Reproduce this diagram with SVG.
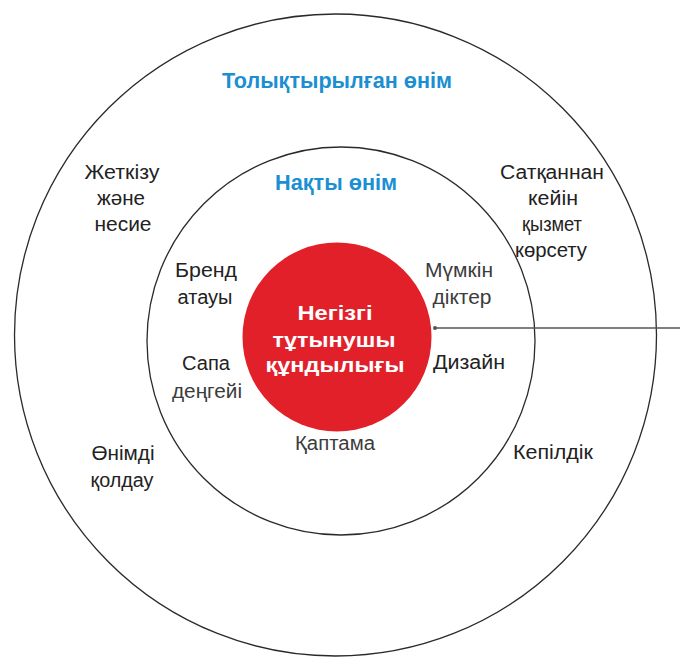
<svg xmlns="http://www.w3.org/2000/svg" width="680" height="659" viewBox="0 0 680 659">
<style>
.ring{fill:none;stroke:#2a2a2a;stroke-width:1.3}
.title{font-family:"Liberation Sans",Arial,sans-serif;font-weight:bold;font-size:21.5px;fill:#1b8fd2;text-anchor:middle}
.lbl{font-family:"Liberation Sans",Arial,sans-serif;font-size:20px;fill:#222;text-anchor:middle}
.lbl2{font-family:"Liberation Sans",Arial,sans-serif;font-size:20px;fill:#3c3c3c;text-anchor:middle}
.core{font-family:"Liberation Sans",Arial,sans-serif;font-weight:bold;font-size:21px;fill:#fff;text-anchor:middle}
.conn{stroke:#555;stroke-width:1.5;fill:none}
</style>
<rect width="680" height="659" fill="#fff"/>
<g id="augmented-product">
<circle class="ring" cx="335.5" cy="335" r="321"/>
<text class="title" x="337" y="88" textLength="230" lengthAdjust="spacingAndGlyphs">Толықтырылған өнім</text>
</g>
<g id="actual-product">
<circle class="ring" cx="341" cy="341" r="194"/>
<text class="title" x="336" y="190" textLength="122" lengthAdjust="spacingAndGlyphs">Нақты өнім</text>
</g>
<g id="core-value">
<circle cx="337" cy="337" r="94.5" fill="#e2202a"/>
<text class="core" x="335" y="320" textLength="75" lengthAdjust="spacingAndGlyphs">Негізгі</text>
<text class="core" x="334" y="347" textLength="123" lengthAdjust="spacingAndGlyphs">тұтынушы</text>
<text class="core" x="335" y="372" textLength="139" lengthAdjust="spacingAndGlyphs">құндылығы</text>
</g>
<g id="delivery-credit">
<text class="lbl" x="122" y="179" textLength="75" lengthAdjust="spacingAndGlyphs">Жеткізу</text>
<text class="lbl" x="121" y="205" textLength="48" lengthAdjust="spacingAndGlyphs">жəне</text>
<text class="lbl" x="123" y="231" textLength="57" lengthAdjust="spacingAndGlyphs">несие</text>
</g>
<g id="after-sale-service">
<text class="lbl" x="552" y="179" textLength="104" lengthAdjust="spacingAndGlyphs">Сатқаннан</text>
<text class="lbl" x="553" y="205" textLength="50" lengthAdjust="spacingAndGlyphs">кейін</text>
<text class="lbl" x="552" y="231" textLength="60" lengthAdjust="spacingAndGlyphs">қызмет</text>
<text class="lbl" x="551" y="257" textLength="72" lengthAdjust="spacingAndGlyphs">көрсету</text>
</g>
<g id="brand-name">
<text class="lbl" x="206" y="277" textLength="62" lengthAdjust="spacingAndGlyphs">Бренд</text>
<text class="lbl" x="205" y="304" textLength="55" lengthAdjust="spacingAndGlyphs">атауы</text>
</g>
<g id="features">
<text class="lbl2" x="459" y="277" textLength="68" lengthAdjust="spacingAndGlyphs">Мүмкін</text>
<text class="lbl2" x="462" y="304" textLength="59" lengthAdjust="spacingAndGlyphs">діктер</text>
</g>
<g id="quality-level">
<text class="lbl" x="206" y="370" textLength="48" lengthAdjust="spacingAndGlyphs">Сапа</text>
<text class="lbl2" x="207" y="398" textLength="70" lengthAdjust="spacingAndGlyphs">деңгейі</text>
</g>
<g id="design">
<text class="lbl" x="469" y="369" textLength="72" lengthAdjust="spacingAndGlyphs">Дизайн</text>
</g>
<g id="packaging">
<text class="lbl2" x="335" y="450" textLength="80" lengthAdjust="spacingAndGlyphs">Қаптама</text>
</g>
<g id="product-support">
<text class="lbl" x="123" y="460" textLength="63" lengthAdjust="spacingAndGlyphs">Өнімді</text>
<text class="lbl" x="122" y="487" textLength="63" lengthAdjust="spacingAndGlyphs">қолдау</text>
</g>
<g id="warranty">
<text class="lbl" x="553" y="459" textLength="80" lengthAdjust="spacingAndGlyphs">Кепілдік</text>
</g>
<g id="connectors">
<line class="conn" x1="435" y1="328" x2="680" y2="328"/>
<circle cx="435" cy="328" r="2" fill="#555"/>
</g>
</svg>
